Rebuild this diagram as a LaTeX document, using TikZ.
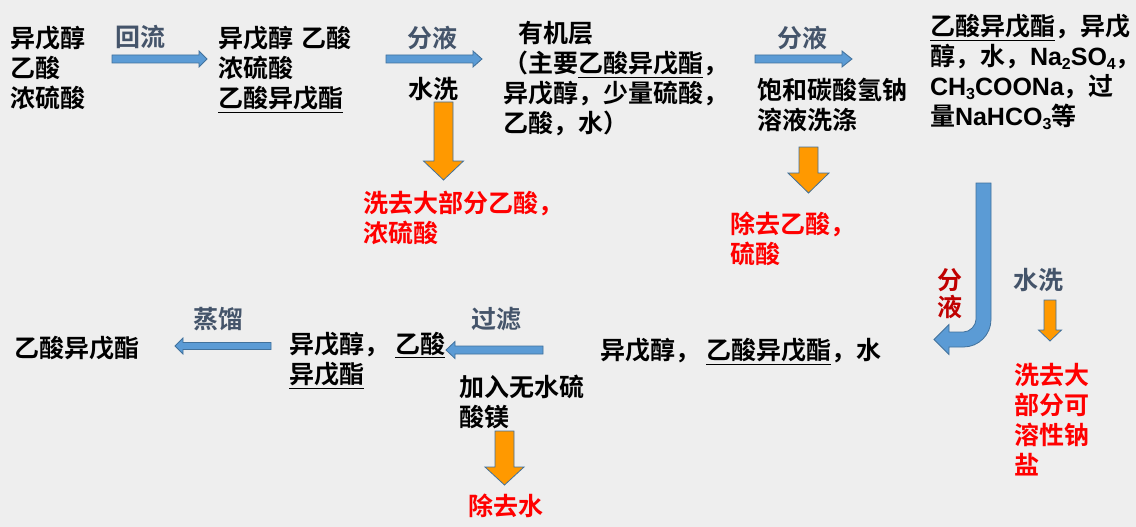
\documentclass[tikz,border=0pt]{standalone}
\usepackage{fontspec}
\setmainfont{Noto Sans CJK SC}[BoldFont={* Bold}]
\newfontfamily\lat{Liberation Sans}[BoldFont={* Bold}]
\usetikzlibrary{calc}
\definecolor{bg}{HTML}{EEEEEE}
\definecolor{slate}{HTML}{44546A}
\definecolor{dred}{HTML}{C00000}
\definecolor{ared}{HTML}{FF0000}
\definecolor{bfill}{HTML}{5B9BD5}
\definecolor{bline}{HTML}{41719C}
\definecolor{ofill}{HTML}{FF9900}
\tikzset{
  txt/.style={anchor=north west, inner sep=0pt, outer sep=0pt, align=left,
    font=\bfseries\fontsize{25}{30}\selectfont},
  lbl/.style={txt, text=slate},
  redtxt/.style={txt, text=ared},
  barrow/.style={fill=bfill, draw=bline, line width=0.8pt, line join=miter},
  oarrow/.style={fill=ofill, draw=bline, line width=0.8pt, line join=miter},
}
% horizontal block arrow: style, tail, tip, half shaft, half head, signed head length
\newcommand\hblk[6]{%
  \draw[#1] ($(#2)+(0,#4)$) -- ($(#3)+(#6,#4)$) -- ($(#3)+(#6,#5)$) -- (#3)
    -- ($(#3)+(#6,-#5)$) -- ($(#3)+(#6,-#4)$) -- ($(#2)+(0,-#4)$) -- cycle;}
% vertical (downward) block arrow
\newcommand\vblk[6]{%
  \draw[#1] ($(#2)+(-#4,0)$) -- ($(#3)+(-#4,#6)$) -- ($(#3)+(-#5,#6)$) -- (#3)
    -- ($(#3)+(#5,#6)$) -- ($(#3)+(#4,#6)$) -- ($(#2)+(#4,0)$) -- cycle;}
\newcommand\sub[1]{\raisebox{-4pt}{\fontsize{16}{16}\selectfont #1}}
\begin{document}
\begin{tikzpicture}[x=1pt,y=-1pt]
\useasboundingbox (0,0) rectangle (1136,527);
\fill[bg] (0,0) rectangle (1136,527);

% ---- text nodes ----
\node[txt] (n1) at (10,26.5) {异戊醇\\乙酸\\浓硫酸};
\node[lbl] (l1) at (115,25.5) {回流};
\node[txt] (n2) at (218,26.5) {异戊醇\hspace{8pt}乙酸\\浓硫酸\\\underline{乙酸异戊酯}};
\node[lbl] (l2a) at (407,26.5) {分液};
\node[txt] (l2b) at (408,77.5) {水洗};
\node[redtxt] (r1) at (363,191.5) {洗去大部分乙酸，\\浓硫酸};
\node[txt] (n3) at (503,21.5) {\hspace*{15pt}有机层\\（主要\underline{乙酸异戊酯}，\\异戊醇，少量硫酸，\\乙酸，水）};
\node[lbl] (l3a) at (777,26.5) {分液};
\node[txt] (l3b) at (757,78.5) {饱和碳酸氢钠\\溶液洗涤};
\node[redtxt] (r2) at (730,211.5) {除去乙酸，\\硫酸};
\node[txt] (n4) at (930,14.5) {\underline{乙酸异戊酯}，异戊\\醇，水，{\lat Na\sub{2}SO\sub{4}}\makebox[12pt][l]{，}\\{\lat CH\sub{3}COONa}，过\\量{\lat NaHCO\sub{3}}等};
\node[txt, text=dred, font=\bfseries\fontsize{25}{27}\selectfont] (l4a) at (937,268.5) {分\\液};
\node[lbl] (l4b) at (1013,268.5) {水洗};
\node[redtxt] (r3) at (1014,363.5) {洗去大\\部分可\\溶性钠\\盐};
\node[txt] (n5) at (600,338.5) {异戊醇，\hspace{6pt}\underline{乙酸异戊酯}，水};
\node[lbl] (l5) at (471,307.5) {过滤};
\node[txt] (n6) at (289,332.5) {异戊醇，\hspace{6pt}\underline{乙酸}\\\underline{异戊酯}};
\node[txt] (l6b) at (459,375.5) {加入无水硫\\酸镁};
\node[redtxt] (r4) at (468,493.5) {除去水};
\node[lbl] (l7) at (193,307.5) {蒸馏};
\node[txt] (n7) at (15,336.5) {乙酸异戊酯};

% ---- arrow end points ----
\coordinate (a1s) at (112,59);  \coordinate (a1e) at (207,59);
\coordinate (a2s) at (386,59);  \coordinate (a2e) at (482,59);
\coordinate (a3s) at (755,59);  \coordinate (a3e) at (852,59);
\coordinate (a4s) at (271,346); \coordinate (a4e) at (175,346);
\coordinate (a5s) at (543,350); \coordinate (a5e) at (446,350);
\coordinate (o1s) at (443.5,102); \coordinate (o1e) at (443.5,180);
\coordinate (o2s) at (808.5,147); \coordinate (o2e) at (808.5,193);
\coordinate (o3s) at (504.5,431); \coordinate (o3e) at (504.5,485);
\coordinate (o4s) at (1050,300);  \coordinate (o4e) at (1050,341);

\hblk{barrow}{a1s}{a1e}{4}{8}{-8}
\hblk{barrow}{a2s}{a2e}{4}{8}{-9}
\hblk{barrow}{a3s}{a3e}{4}{8}{-10}
\hblk{barrow}{a4s}{a4e}{3.5}{8}{8}
\hblk{barrow}{a5s}{a5e}{4}{8.5}{9}

\vblk{oarrow}{o1s}{o1e}{9.5}{20}{-19}
\vblk{oarrow}{o2s}{o2e}{9.5}{20.5}{-20}
\vblk{oarrow}{o3s}{o3e}{9.5}{19.5}{-18}
\vblk{oarrow}{o4s}{o4e}{6}{11.5}{-11}

% ---- bent arrow ----
\draw[barrow] (976,183) -- (991,183) -- (991,319.5)
  .. controls (991,334.7) and (978.7,347) .. (963.5,347)
  -- (949,347) -- (949,354.5) -- (934,339.5) -- (949,324.5) -- (949,332)
  -- (963.5,332) .. controls (970.4,332) and (976,325.1) .. (976,319.5) -- cycle;
\end{tikzpicture}
\end{document}
